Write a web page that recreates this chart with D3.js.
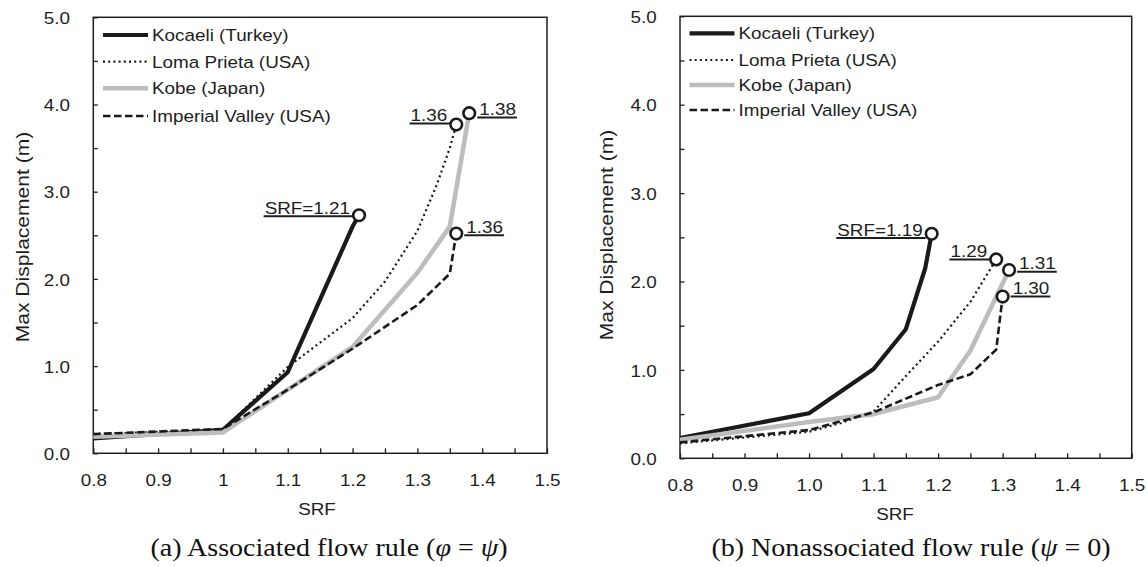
<!DOCTYPE html>
<html>
<head>
<meta charset="utf-8">
<script src="https://cdn.jsdelivr.net/npm/d3@7"></script>
<style>
  html, body { margin: 0; padding: 0; background: #fff; }
  svg { display: block; }
</style>
</head>
<body>
<svg id="chart" width="1148" height="567"></svg>
<script>
// ---- data -------------------------------------------------------------
const earthquakes = ["Kocaeli (Turkey)", "Loma Prieta (USA)", "Kobe (Japan)", "Imperial Valley (USA)"];

const srfTicksA = ["0.8", "0.9", "1", "1.1", "1.2", "1.3", "1.4", "1.5"];
const srfTicksB = ["0.8", "0.9", "1.0", "1.1", "1.2", "1.3", "1.4", "1.5"];
const dispTicks = ["0.0", "1.0", "2.0", "3.0", "4.0", "5.0"];

// (a) associated flow rule: [SRF, max displacement (m)]
const kocaeliA    = [[0.8, 0.17], [1.0, 0.27], [1.1, 0.93], [1.2, 2.60], [1.21, 2.73]];
const lomaPrietaA = [[0.8, 0.22], [1.0, 0.27], [1.1, 0.99], [1.2, 1.55], [1.25, 1.97], [1.3, 2.55], [1.33, 3.08], [1.35, 3.50], [1.36, 3.77]];
const kobeA       = [[0.8, 0.19], [1.0, 0.24], [1.1, 0.73], [1.2, 1.22], [1.3, 2.07], [1.35, 2.60], [1.38, 3.90]];
const imperialA   = [[0.8, 0.22], [1.0, 0.28], [1.1, 0.73], [1.2, 1.20], [1.3, 1.70], [1.35, 2.06], [1.36, 2.52]];

// (b) nonassociated flow rule
const kocaeliB    = [[0.8, 0.23], [1.0, 0.51], [1.1, 1.01], [1.15, 1.46], [1.18, 2.15], [1.19, 2.54]];
const lomaPrietaB = [[0.8, 0.17], [1.0, 0.30], [1.05, 0.40], [1.1, 0.53], [1.15, 0.93], [1.2, 1.32], [1.25, 1.77], [1.29, 2.25]];
const kobeB       = [[0.8, 0.21], [1.0, 0.41], [1.1, 0.50], [1.2, 0.69], [1.25, 1.22], [1.31, 2.13]];
const imperialB   = [[0.8, 0.18], [1.0, 0.32], [1.1, 0.52], [1.2, 0.83], [1.25, 0.95], [1.29, 1.23], [1.3, 1.83]];

// ---- styling ----------------------------------------------------------
const SANS = "'Liberation Sans', Arial, sans-serif";
const SERIF = "'Liberation Serif', 'Times New Roman', serif";
const SX = 1.11;            // horizontal stretch of the typeset labels
const FS = 17;
const INK = "#1e1e1e";

const seriesStyle = [
  { stroke: "#1a1a1a", width: 4.2, dash: null,      cap: "butt" },
  { stroke: "#1a1a1a", width: 2.2, dash: "2,3.2",   cap: "butt" },
  { stroke: "#bdbdbd", width: 4.6, dash: null,      cap: "butt" },
  { stroke: "#1a1a1a", width: 2.6, dash: "7.5,3.5", cap: "butt" }
];

const svg = d3.select("#chart");
svg.append("rect").attr("width", 1148).attr("height", 567).attr("fill", "#fff");

function stext(g, x, y, str, anchor, size, family) {
  return g.append("text")
    .attr("transform", `translate(${x},${y}) scale(${SX},1)`)
    .attr("text-anchor", anchor || "start")
    .attr("font-family", family || SANS)
    .attr("font-size", size || FS)
    .attr("fill", INK)
    .text(str);
}

function drawPanel(cfg) {
  const g = svg.append("g");
  const x = d3.scaleLinear().domain([0.8, 1.5]).range([cfg.left, cfg.right]);
  const y = d3.scaleLinear().domain([0, 5]).range([cfg.bottom, cfg.top]);

  // minor + major ticks on x (pointing inward)
  const xMinor = d3.range(0, 15).map(i => +(0.8 + i * 0.05).toFixed(2));
  g.append("g").attr("transform", `translate(0,${cfg.bottom})`)
    .call(d3.axisBottom(x).tickValues(xMinor).tickSize(-5).tickFormat(""))
    .call(a => a.select(".domain").remove())
    .call(a => a.selectAll("line").attr("stroke", INK).attr("stroke-width", 1.3));

  const xMajor = cfg.xLabels.map(Number);
  g.append("g").attr("transform", `translate(0,${cfg.bottom})`)
    .call(d3.axisBottom(x).tickValues(xMajor).tickSize(0).tickPadding(21)
      .tickFormat((d, i) => cfg.xLabels[i]))
    .call(a => a.select(".domain").remove())
    .call(a => a.selectAll("text")
      .attr("font-family", SANS).attr("font-size", FS).attr("fill", INK)
      .attr("transform", `scale(${SX},1)`));

  // y ticks every 0.5, labels on whole metres
  const yMinor = d3.range(0, 11).map(i => i * 0.5);
  g.append("g").attr("transform", `translate(${cfg.left},0)`)
    .call(d3.axisLeft(y).tickValues(yMinor).tickSize(-4.5).tickFormat(""))
    .call(a => a.select(".domain").remove())
    .call(a => a.selectAll("line").attr("stroke", INK).attr("stroke-width", 1.3));

  const yMajor = dispTicks.map(Number);
  g.append("g").attr("transform", `translate(${cfg.left},0)`)
    .call(d3.axisLeft(y).tickValues(yMajor).tickSize(0).tickPadding(21)
      .tickFormat((d, i) => dispTicks[i]))
    .call(a => a.select(".domain").remove())
    .call(a => a.selectAll("text")
      .attr("font-family", SANS).attr("font-size", FS).attr("fill", INK)
      .attr("dy", "0.36em")
      .attr("transform", `scale(${SX},1)`));

  // plot frame
  g.append("rect")
    .attr("x", cfg.left).attr("y", cfg.top)
    .attr("width", cfg.right - cfg.left).attr("height", cfg.bottom - cfg.top)
    .attr("fill", "none").attr("stroke", INK).attr("stroke-width", 1.5);

  // axis titles
  stext(g, cfg.xTitleX, cfg.bottom + 62, "SRF", "middle");
  g.append("text")
    .attr("transform", `translate(${cfg.yTitleX},${cfg.yTitleY}) rotate(-90) scale(1.17,1)`)
    .attr("text-anchor", "middle")
    .attr("dominant-baseline", "central")
    .attr("font-family", SANS).attr("font-size", 18).attr("fill", INK)
    .text("Max Displacement (m)");

  // curves
  const line = d3.line().x(d => x(d[0])).y(d => y(d[1]));
  cfg.series.forEach((s, i) => {
    const st = seriesStyle[i];
    g.append("path").datum(s)
      .attr("d", line)
      .attr("fill", "none")
      .attr("stroke", st.stroke)
      .attr("stroke-width", st.width)
      .attr("stroke-linejoin", "round")
      .attr("stroke-linecap", st.cap)
      .attr("stroke-dasharray", st.dash);
  });

  // legend
  const lg = g.append("g");
  earthquakes.forEach((name, i) => {
    const st = seriesStyle[i];
    const ly = cfg.legendY[i];
    lg.append("line")
      .attr("x1", cfg.legendX).attr("x2", cfg.legendX + 45)
      .attr("y1", ly).attr("y2", ly)
      .attr("stroke", st.stroke).attr("stroke-width", st.width)
      .attr("stroke-dasharray", st.dash);
    stext(lg, cfg.legendX + 49, ly + 6, name, "start");
  });

  // failure points with underlined SRF labels
  cfg.series.forEach((s, i) => {
    const last = s[s.length - 1];
    const cx = x(last[0]), cy = y(last[1]);
    const lab = cfg.labels[i];
    const txt = (i === 0 ? "SRF=" : "") + d3.format(".2f")(last[0]);
    const ly = cy + lab.dy;
    let t;
    if (lab.side === "left") {
      t = stext(g, cx - 9, ly - 2.5, txt, "end");
    } else {
      t = stext(g, cx + 10, ly - 2.5, txt, "start");
    }
    const w = t.node().getComputedTextLength() * SX;
    const x1 = lab.side === "left" ? cx - 10 - w : cx + 8;
    const x2 = lab.side === "left" ? cx - 6 : cx + 11 + w;
    g.append("line")
      .attr("x1", x1).attr("x2", x2).attr("y1", ly).attr("y2", ly)
      .attr("stroke", INK).attr("stroke-width", 2);
    g.append("circle")
      .attr("cx", cx).attr("cy", cy).attr("r", 5.8)
      .attr("fill", "#fff").attr("stroke", "#1a1a1a").attr("stroke-width", 2.6);
  });

  // caption
  const cap = g.append("text")
    .attr("transform", `translate(${cfg.captionX},556) scale(1.1,1)`)
    .attr("text-anchor", "middle")
    .attr("font-family", SERIF).attr("font-size", 25.5).attr("fill", "#111");
  cfg.caption.forEach(part => {
    cap.append("tspan").attr("font-style", part.italic ? "italic" : null).text(part.t);
  });
}

drawPanel({
  left: 93.3, right: 547, top: 17.3, bottom: 453.3,
  xLabels: srfTicksA,
  xTitleX: 317, yTitleX: 23, yTitleY: 237,
  legendX: 103, legendY: [35, 61.7, 88.3, 116],
  series: [kocaeliA, lomaPrietaA, kobeA, imperialA],
  labels: [
    { side: "left", dy: 1 }, { side: "left", dy: -1 },
    { side: "right", dy: 4.4 }, { side: "right", dy: 1.7 }
  ],
  captionX: 329,
  caption: [{ t: "(a) Associated flow rule (" }, { t: "φ", italic: true }, { t: " = " }, { t: "ψ", italic: true }, { t: ")" }]
});

drawPanel({
  left: 680, right: 1131.7, top: 16.3, bottom: 458.3,
  xLabels: srfTicksB,
  xTitleX: 895, yTitleX: 607, yTitleY: 235,
  legendX: 689.5, legendY: [33.3, 60, 85, 110],
  series: [kocaeliB, lomaPrietaB, kobeB, imperialB],
  labels: [
    { side: "left", dy: 4.3 }, { side: "left", dy: 0 },
    { side: "right", dy: 1.7 }, { side: "right", dy: 0 }
  ],
  captionX: 911,
  caption: [{ t: "(b) Nonassociated flow rule (" }, { t: "ψ", italic: true }, { t: " = 0)" }]
});
</script>
</body>
</html>
